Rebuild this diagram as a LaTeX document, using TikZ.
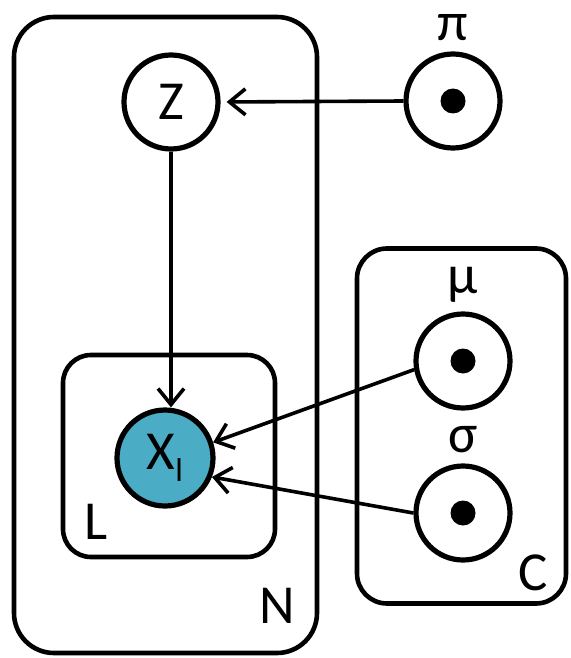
\documentclass[tikz,border=0pt]{standalone}
\usepackage{fontspec}
\setmainfont{Carlito}
\usetikzlibrary{arrows.meta}
\definecolor{xfill}{RGB}{75,172,198}
\begin{document}
\begin{tikzpicture}[x=1pt,y=-1pt,
  plate/.style={draw, line width=4.6pt, inner sep=0pt},
  var/.style={circle, draw, line width=5.2pt, minimum size=94pt, inner sep=0pt, font=\fontsize{55}{60}\selectfont},
  lab/.style={inner sep=0pt, font=\fontsize{55}{60}\selectfont},
  dotc/.style={circle, fill=black, minimum size=25pt, inner sep=0pt},
  edge/.style={line width=3.6pt, -{Straight Barb[length=16pt, width=26pt, line width=3.6pt]}}]
\useasboundingbox (0,0) rectangle (570,658);
% plates
\node[plate, rounded corners=40pt, minimum width=303pt, minimum height=636pt] (N) at (165.5,335) {};
\node[plate, rounded corners=28pt, minimum width=212pt, minimum height=202pt] (L) at (169,456) {};
\node[plate, rounded corners=30pt, minimum width=209pt, minimum height=355pt] (C) at (461.5,426) {};
% nodes
\node[var] (Z) at (171,102) {Z};
\node[var] (pi) at (453,101) {};
\node[dotc] (pidot) at (pi.center) {};
\node[var] (mu) at (463,361) {};
\node[dotc] (mudot) at (mu.center) {};
\node[var] (sigma) at (463,513) {};
\node[dotc] (sigmadot) at (sigma.center) {};
\node[var, fill=xfill, minimum size=96pt] (X) at (165,458) {X\raisebox{-12pt}{\fontsize{33}{36}\selectfont l}};
% labels
\node[lab] (pilab) at (453,28) {π};
\node[lab] (mulab) at (463,285) {μ};
\node[lab] (sigmalab) at (463,440) {σ};
\node[lab] (Llab) at (96,522) {L};
\node[lab] (Clab) at (533,573) {C};
\node[lab] (Nlab) at (277,606) {N};
% edges
\draw[edge, shorten >=6pt] (pi.west) -- (Z.east);
\draw[edge] (Z.south) -- (X.north -| Z.south);
\draw[edge] (mu.190) -- (X.18);
\draw[edge] (sigma.west) -- (X.-22);
\end{tikzpicture}
\end{document}
